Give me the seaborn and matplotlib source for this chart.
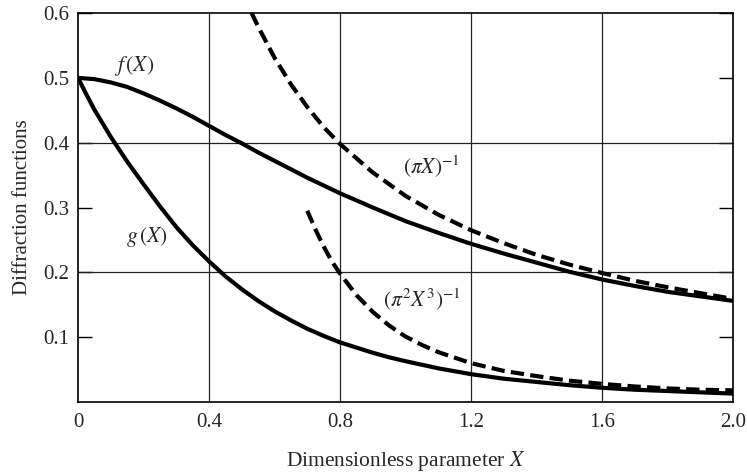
import numpy as np
import pandas as pd
import matplotlib
matplotlib.use("Agg")
import matplotlib.pyplot as plt
import seaborn as sns

# valores
x_f = [0.0, 0.05, 0.1, 0.15, 0.2, 0.25, 0.3, 0.35, 0.4, 0.45, 0.5, 0.55, 0.6, 0.65, 0.7,
       0.75, 0.8, 0.9, 1.0, 1.1, 1.2, 1.3, 1.4, 1.5, 1.6, 1.7, 1.8, 1.9, 2.0]
f_vals = [0.500, 0.498, 0.493, 0.486, 0.476, 0.465, 0.453, 0.440, 0.426, 0.412, 0.399, 0.385,
          0.372, 0.359, 0.346, 0.334, 0.322, 0.300, 0.279, 0.261, 0.244, 0.229, 0.215, 0.201,
          0.189, 0.179, 0.170, 0.163, 0.156]

x_g = [0.0, 0.025, 0.05, 0.075, 0.1, 0.15, 0.2, 0.25, 0.3, 0.35, 0.4, 0.45, 0.5, 0.55, 0.6,
       0.65, 0.7, 0.75, 0.8, 0.85, 0.9, 0.95, 1.0, 1.1, 1.2, 1.3, 1.4, 1.5, 1.6, 1.7, 1.8,
       1.9, 2.0]
g_vals = [0.500, 0.475, 0.451, 0.430, 0.409, 0.371, 0.336, 0.302, 0.270, 0.242, 0.217, 0.194,
          0.174, 0.156, 0.140, 0.126, 0.113, 0.102, 0.092, 0.084, 0.076, 0.069, 0.063, 0.052,
          0.043, 0.036, 0.031, 0.026, 0.022, 0.019, 0.017, 0.015, 0.013]

x_inv1 = [0.53, 0.55, 0.6, 0.65, 0.7, 0.75, 0.8, 0.9, 1.0, 1.1, 1.2, 1.3, 1.4, 1.5, 1.6,
          1.7, 1.8, 1.9, 2.0]
inv1_vals = [0.600, 0.579, 0.531, 0.490, 0.455, 0.424, 0.398, 0.354, 0.318, 0.289, 0.265,
             0.245, 0.227, 0.212, 0.199, 0.187, 0.177, 0.168, 0.159]

x_inv3 = [0.70, 0.725, 0.75, 0.775, 0.8, 0.85, 0.9, 0.95, 1.0, 1.05, 1.1, 1.2, 1.3, 1.4,
          1.5, 1.6, 1.7, 1.8, 1.9, 2.0]
inv3_vals = [0.295, 0.266, 0.240, 0.217, 0.198, 0.165, 0.139, 0.118, 0.101, 0.088, 0.077,
             0.060, 0.048, 0.040, 0.033, 0.028, 0.024, 0.021, 0.019, 0.018]

x_ticks = [0, 0.4, 0.8, 1.2, 1.6, 2.0]
x_ticklabels = ["0", "0.4", "0.8", "1.2", "1.6", "2.0"]
y_ticks = [0.1, 0.2, 0.3, 0.4, 0.5, 0.6]
y_ticklabels = ["0.1", "0.2", "0.3", "0.4", "0.5", "0.6"]
grid_x = [0.4, 0.8, 1.2, 1.6]
grid_y = [0.2, 0.4]

sns.set_theme(style="white")
plt.rcParams["font.family"] = ["Liberation Serif", "DejaVu Serif"]
plt.rcParams["mathtext.fontset"] = "stix"

fig = plt.figure(figsize=(7.47, 4.73), dpi=100)
ax = fig.add_axes([0.1044, 0.150, 0.877, 0.8225])

for gx in grid_x:
    ax.axvline(gx, color="#222222", lw=0.9, zorder=1)
for gy in grid_y:
    ax.axhline(gy, color="#222222", lw=0.9, zorder=1)

sns.lineplot(x=x_f, y=f_vals, ax=ax, color="black", lw=3, zorder=3)
sns.lineplot(x=x_g, y=g_vals, ax=ax, color="black", lw=3, zorder=3)
sns.lineplot(x=x_inv1, y=inv1_vals, ax=ax, color="black", lw=3, zorder=3)
ax.lines[-1].set_dashes([3.2, 1.5])
sns.lineplot(x=x_inv3, y=inv3_vals, ax=ax, color="black", lw=3, zorder=3)
ax.lines[-1].set_dashes([3.2, 1.5])

ax.text(0.17, 0.519, r"$f\,(X)$", fontsize=15.5, ha="center", va="center")
ax.text(0.21, 0.255, r"$g\,(X)$", fontsize=15.5, ha="center", va="center")
ax.text(1.08, 0.363, r"$(\pi X)^{-1}$", fontsize=15.5, ha="center", va="center")
ax.text(1.05, 0.157, r"$(\pi^2 X^3)^{-1}$", fontsize=15.5, ha="center", va="center")

ax.set_xlim(0, 2.0)
ax.set_ylim(0, 0.6)
ax.set_xticks(x_ticks)
ax.set_xticklabels(x_ticklabels)
ax.set_yticks(y_ticks)
ax.set_yticklabels(y_ticklabels)
ax.tick_params(axis="x", length=0, pad=8, labelsize=15)
ax.tick_params(axis="y", direction="in", length=10, width=1, left=True, right=True,
               labelsize=15, pad=6, color="black")

for sp in ax.spines.values():
    sp.set_color("black")
    sp.set_linewidth(1.2)

ax.set_xlabel(r"Dimensionless parameter $X$", fontsize=15.5, labelpad=12)
ax.set_ylabel("Diffraction functions", fontsize=15, labelpad=8)

fig.savefig("out.png", dpi=100)
